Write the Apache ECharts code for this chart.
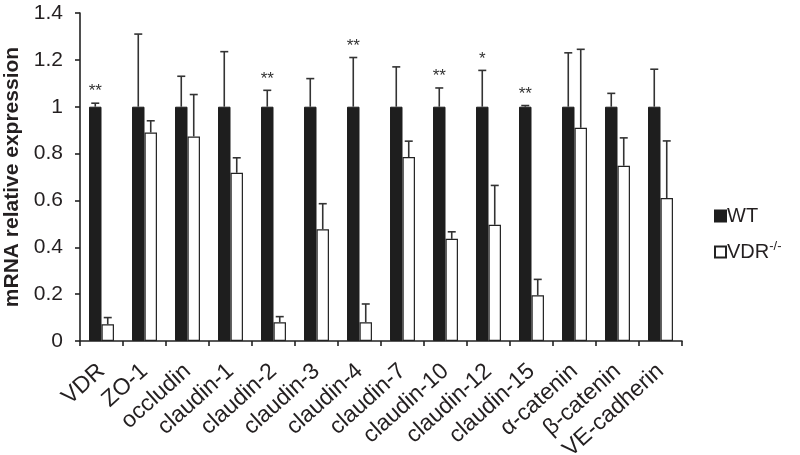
<!DOCTYPE html>
<html>
<head>
<meta charset="utf-8">
<script src="https://cdn.jsdelivr.net/npm/echarts@6/dist/echarts.min.js"></script>
<style>html,body{margin:0;padding:0;background:#fff;}#c{width:800px;height:455px;}</style>
</head>
<body>
<div id="c"></div>
<script>
var categories = ['VDR','ZO-1','occludin','claudin-1','claudin-2','claudin-3','claudin-4','claudin-7','claudin-10','claudin-12','claudin-15','\u03b1-catenin','\u03b2-catenin','VE-cadherin'];
var wtValues = [1,1,1,1,1,1,1,1,1,1,1,1,1,1];
var wtUpper = [1.015,1.31,1.13,1.235,1.07,1.12,1.21,1.17,1.08,1.155,1.005,1.23,1.057,1.16];
var koValues = [0.071,0.89,0.873,0.718,0.08,0.477,0.08,0.785,0.436,0.496,0.195,0.91,0.748,0.61];
var koUpper = [0.1,0.94,1.052,0.782,0.104,0.586,0.158,0.853,0.466,0.664,0.263,1.245,0.867,0.854];
var sigMarks = ['**','','','','**','','**','','**','*','**','','',''];
var yTicks = [0,0.2,0.4,0.6,0.8,1,1.2,1.4];

var BAR_FRAC = 0.29;
var textColor = '#231f20';

function errRender(upper, valArr, side, marks) {
  return function (params, api) {
    var i = params.dataIndex;
    var band = api.size([1, 0])[0];
    var base = api.coord([i, valArr[i]]);
    var top = api.coord([i, upper[i]]);
    var x = base[0] + side * band * BAR_FRAC / 2;
    var cap = 4;
    var children = [
      {type: 'line', shape: {x1: x, y1: base[1], x2: x, y2: top[1]}, style: {stroke: '#333', lineWidth: 1.6}},
      {type: 'line', shape: {x1: x - cap, y1: top[1], x2: x + cap, y2: top[1]}, style: {stroke: '#333', lineWidth: 1.6}}
    ];
    if (marks && marks[i]) {
      children.push({type: 'text', style: {text: marks[i], x: x, y: top[1] - 3, align: 'center', verticalAlign: 'bottom', fontSize: 17, fill: '#333', fontFamily: 'Liberation Sans'}});
    }
    return {type: 'group', children: children};
  };
}

var chart = echarts.init(document.getElementById('c'), null, {renderer: 'canvas'});
chart.setOption({
  animation: false,
  backgroundColor: '#fff',
  textStyle: {fontFamily: 'Liberation Sans', color: textColor},
  grid: {left: 80, right: 118, top: 13, bottom: 114, containLabel: false, outerBoundsMode: 'none'},
  legend: {
    orient: 'vertical', left: 709, top: 201, itemWidth: 11, itemHeight: 11, itemGap: 14,
    icon: 'rect',
    data: ['WT', 'VDR-/-'],
    formatter: function (n) { return n === 'WT' ? 'WT' : 'VDR{sup|-/-}'; },
    textStyle: {fontSize: 20, color: textColor, fontFamily: 'Liberation Sans', padding: [0,0,0,-4],
      rich: {sup: {fontSize: 13, verticalAlign: 'top', padding: [0,0,11,0], color: textColor, fontFamily: 'Liberation Sans'}}}
  },
  xAxis: {
    type: 'category', data: categories, boundaryGap: true,
    axisLine: {lineStyle: {color: '#222', width: 1.6}},
    axisTick: {show: true, alignWithLabel: false, length: 5, lineStyle: {color: '#222', width: 1.6}},
    axisLabel: {rotate: 42, interval: 0, fontSize: 23, color: textColor, margin: 27, fontFamily: 'Liberation Sans'}
  },
  yAxis: {
    type: 'value', min: 0, max: 1.4, interval: 0.2,
    name: 'mRNA relative expression', nameLocation: 'middle', nameGap: 56,
    nameTextStyle: {fontSize: 21, fontWeight: 'bold', color: textColor, fontFamily: 'Liberation Sans'},
    axisLine: {show: true, lineStyle: {color: '#222', width: 1.6}},
    axisTick: {show: true, length: 5, lineStyle: {color: '#222', width: 1.6}},
    splitLine: {show: false},
    axisLabel: {fontSize: 21, color: textColor, margin: 17, fontFamily: 'Liberation Sans',
      formatter: function (v) { return String(Math.round(v * 10) / 10); }}
  },
  series: [
    {name: 'WT', type: 'bar', data: wtValues, barWidth: (BAR_FRAC * 100) + '%', barGap: '0%',
      itemStyle: {color: '#1e1e1e', borderColor: '#1e1e1e', borderWidth: 1}},
    {name: 'VDR-/-', type: 'bar', data: koValues, barWidth: (BAR_FRAC * 100) + '%', barGap: '0%',
      itemStyle: {color: '#ffffff', borderColor: '#222', borderWidth: 1.2}},
    {type: 'custom', data: wtValues, renderItem: errRender(wtUpper, wtValues, -1, sigMarks), z: 5, silent: true},
    {type: 'custom', data: koValues, renderItem: errRender(koUpper, koValues, 1, null), z: 5, silent: true}
  ]
});
</script>
</body>
</html>
